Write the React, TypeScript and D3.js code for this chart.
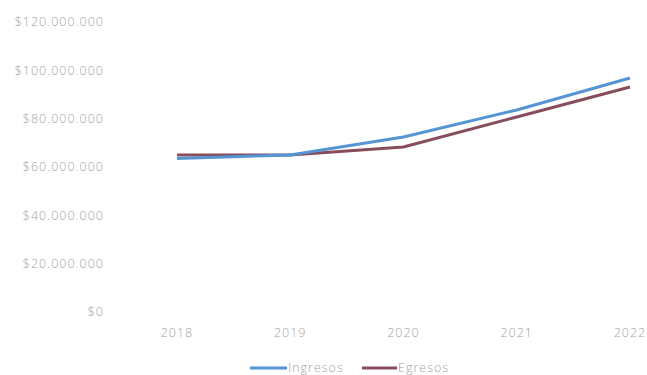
import React from "react";
import * as d3 from "d3";

const years = ["2018", "2019", "2020", "2021", "2022"];
const ingresos = [63500000, 65000000, 72400000, 83600000, 96800000];
const egresos = [65000000, 65000000, 68300000, 80700000, 93100000];
const yTicks = [0, 20000000, 40000000, 60000000, 80000000, 100000000, 120000000];

const W = 647;
const H = 375;

const fmt = (v: number) =>
  "$" + d3.format(",")(v).replace(/,/g, ".");

export default function App() {
  const x = d3.scalePoint<string>().domain(years).range([177, 630]);
  const y = d3.scaleLinear().domain([0, 120000000]).range([312, 22]);
  const line = d3
    .line<number>()
    .x((_, i) => x(years[i]) as number)
    .y((d) => y(d));
  const font = "'Open Sans', Lato, sans-serif";
  const grey = "#a3a3a3";
  const blue = "#5595d4";
  const red = "#874d5b";
  const ts = { fontSize: 12.5, fontWeight: 300, fill: grey, letterSpacing: 1 } as const;
  return (
    <svg
      width={W}
      height={H}
      style={{ position: "absolute", left: 0, top: 0, background: "#fff" }}
      fontFamily={font}
    >
      {yTicks.map((t) => (
        <text key={t} x={104} y={y(t)} dy="0.35em" textAnchor="end" {...ts}>
          {fmt(t)}
        </text>
      ))}
      {years.map((yr) => (
        <text key={yr} x={x(yr)} y={333} dy="0.35em" textAnchor="middle" {...ts}>
          {yr}
        </text>
      ))}
      <path d={line(egresos) || ""} fill="none" stroke={red} strokeWidth={3} />
      <path d={line(ingresos) || ""} fill="none" stroke={blue} strokeWidth={3} />
      <g>
        <line x1={250} x2={287} y1={368} y2={368} stroke={blue} strokeWidth={3} />
        <text x={288} y={368} dy="0.35em" {...ts}>
          Ingresos
        </text>
        <line x1={362} x2={397} y1={368} y2={368} stroke={red} strokeWidth={3} />
        <text x={398} y={368} dy="0.35em" {...ts}>
          Egresos
        </text>
      </g>
    </svg>
  );
}
